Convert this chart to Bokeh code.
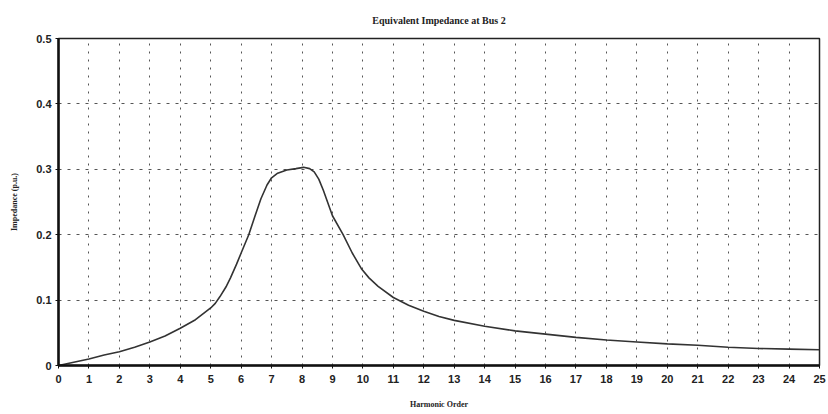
from bokeh.plotting import figure
from bokeh.models import Range1d, FixedTicker
from bokeh.embed import file_html
from bokeh.resources import INLINE

# Data
harmonic_order = [0, 0.5, 1, 1.5, 2, 2.5, 3, 3.5, 4, 4.5, 5, 5.15, 5.3, 5.5, 5.65, 5.85,
                  6, 6.25, 6.45, 6.65, 6.85, 7, 7.2, 7.5, 7.8, 8.05, 8.25, 8.4, 8.55,
                  8.7, 9, 9.35, 9.65, 9.95, 10.2, 10.5, 11, 11.5, 12, 12.5, 13, 14, 15,
                  16, 17, 18, 19, 20, 21, 22, 23, 24, 25]
impedance = [0.0, 0.005, 0.010, 0.016, 0.021, 0.028, 0.036, 0.045, 0.057, 0.070, 0.088,
             0.095, 0.105, 0.120, 0.134, 0.155, 0.172, 0.200, 0.228, 0.255, 0.276,
             0.287, 0.294, 0.299, 0.301, 0.303, 0.301, 0.296, 0.285, 0.268, 0.229,
             0.200, 0.172, 0.148, 0.134, 0.121, 0.104, 0.092, 0.083, 0.075, 0.069,
             0.060, 0.053, 0.048, 0.043, 0.039, 0.036, 0.033, 0.031, 0.028, 0.026,
             0.025, 0.024]
x_ticks = list(range(0, 26))
y_ticks = [0, 0.1, 0.2, 0.3, 0.4, 0.5]
y_tick_labels = {0: "0", 0.1: "0.1", 0.2: "0.2", 0.3: "0.3", 0.4: "0.4", 0.5: "0.5"}

p = figure(width=828, height=414, output_backend="svg", toolbar_location=None,
           x_range=Range1d(0, 25), y_range=Range1d(0, 0.5),
           title="Equivalent Impedance at Bus 2",
           x_axis_label="Harmonic Order", y_axis_label="Impedance (p.u.)",
           min_border_left=58, min_border_right=9, min_border_top=38, min_border_bottom=49)

p.background_fill_color = "white"
p.border_fill_color = "white"
p.outline_line_color = "#222222"
p.outline_line_width = 1.5

p.title.align = "center"
p.title.text_font = "Liberation Serif"
p.title.text_font_style = "bold"
p.title.text_font_size = "10px"
p.title.text_color = "#222222"
p.title.standoff = 25

p.line(harmonic_order, impedance, line_color="#333333", line_width=1.6)

p.xaxis.ticker = FixedTicker(ticks=x_ticks)
p.yaxis.ticker = FixedTicker(ticks=y_ticks)
p.yaxis.major_label_overrides = y_tick_labels

for ax in (p.xaxis, p.yaxis):
    ax.axis_line_color = "#111111"
    ax.axis_line_width = 2.5
    ax.major_tick_line_color = "#111111"
    ax.major_tick_in = 0
    ax.major_tick_out = 3
    ax.minor_tick_line_color = None
    ax.major_label_text_font = "Liberation Sans"
    ax.major_label_text_font_style = "bold"
    ax.major_label_text_font_size = "11px"
    ax.major_label_text_color = "#222222"
    ax.axis_label_text_font = "Liberation Serif"
    ax.axis_label_text_font_style = "bold"
    ax.axis_label_text_font_size = "8px"
    ax.axis_label_text_color = "#222222"

p.xaxis.major_label_standoff = 6
p.xaxis.axis_label_standoff = 14
p.yaxis.major_label_standoff = 4
p.yaxis.axis_label_standoff = 14

p.xgrid.grid_line_color = "#555555"
p.xgrid.grid_line_dash = "2 6"
p.xgrid.grid_line_width = 1
p.ygrid.grid_line_color = "#555555"
p.ygrid.grid_line_dash = "3 6"
p.ygrid.grid_line_width = 1

open("out.html", "w").write(file_html(p, INLINE))
